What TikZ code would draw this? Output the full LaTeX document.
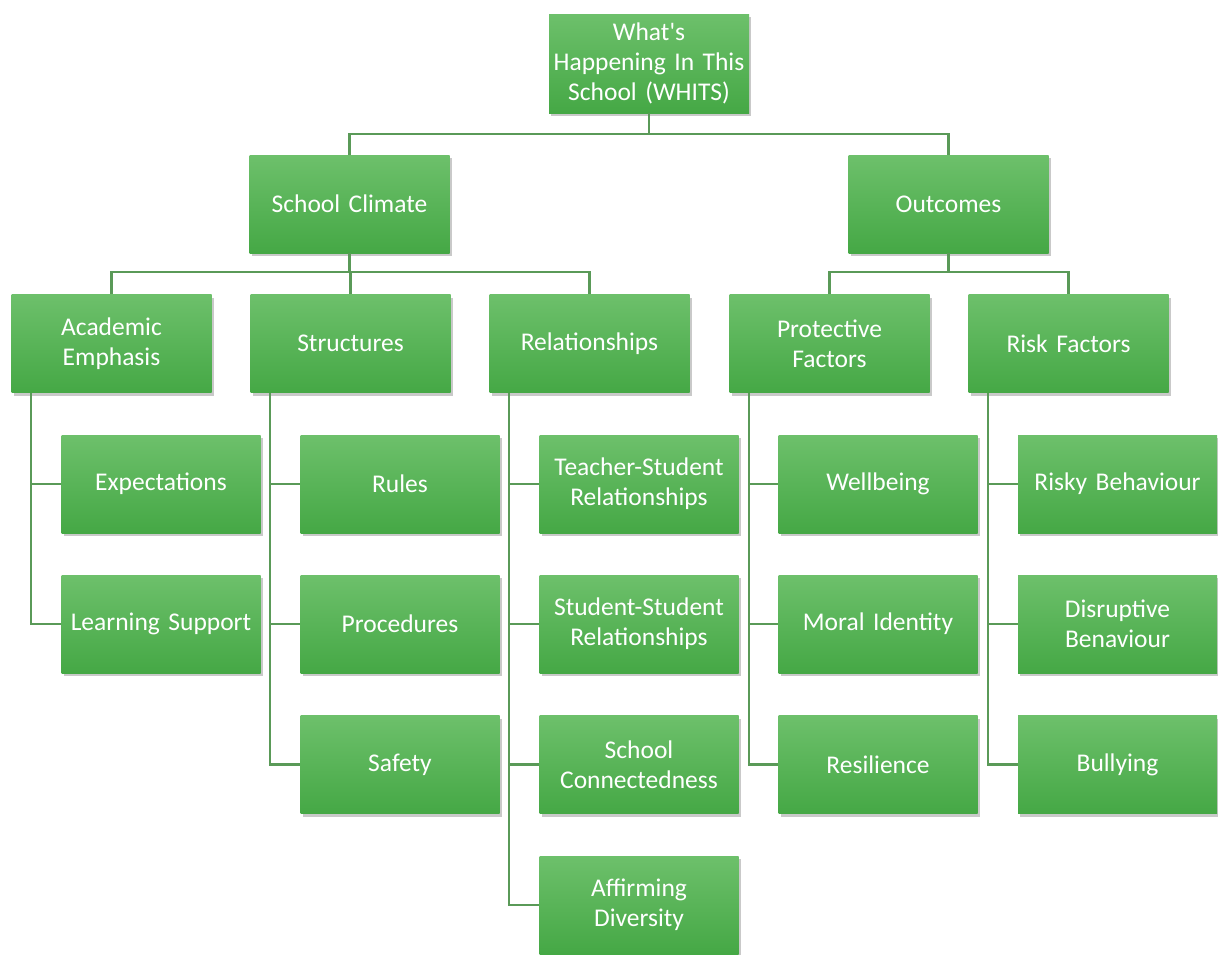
\documentclass[tikz,border=0pt]{standalone}
\usepackage{fontspec}
\setmainfont{Carlito}[Ligatures=TeXOff]
\usetikzlibrary{shadows}
\definecolor{gtop}{HTML}{6DC06B}
\definecolor{gbot}{HTML}{45A845}
\definecolor{lineg}{HTML}{5A9A58}
\tikzset{
  box/.style={rectangle, top color=gtop, bottom color=gbot, draw=none,
    minimum width=200pt, minimum height=98pt, inner sep=0pt, text width=196pt,
    align=center, text=white, font=\fontsize{25.5pt}{30pt}\selectfont,
    drop shadow={shadow xshift=2pt, shadow yshift=-3pt, opacity=0.35, fill=black!60}},
  cbox/.style={box, minimum width=199pt},
  conn/.style={draw=lineg, line width=2.2pt}
}
\begin{document}
\begin{tikzpicture}[x=1pt,y=-1pt]
\useasboundingbox (0,0) rectangle (1218,954);
\fill[white] (0,0) rectangle (1218,954);
\node[box, minimum height=99pt] (root) at (649,63.5) {What's\\Happening In This\\School (WHITS)};
\node[box] (sc) at (349.5,204) {School Climate};
\node[box] (oc) at (948.5,204) {Outcomes};
\node[box] (ae) at (111.5,343.5) {Academic\\Emphasis};
\node[box] (st) at (350.5,343.5) {Structures};
\node[box] (re) at (589.5,343.5) {Relationships};
\node[box] (pf) at (829.5,343.5) {Protective\\Factors};
\node[box] (rf) at (1068.5,343.5) {Risk Factors};
\node[cbox] (ex) at (161,484) {Expectations};
\node[cbox] (ls) at (161,624) {Learning Support};
\node[cbox] (ru) at (400,484) {Rules};
\node[cbox] (pr) at (400,624) {Procedures};
\node[cbox] (sa) at (400,764.5) {Safety};
\node[cbox] (ts) at (639,484) {Teacher-Student\\Relationships};
\node[cbox] (ss) at (639,624) {Student-Student\\Relationships};
\node[cbox] (scn) at (639,764.5) {School\\Connectedness};
\node[cbox] (ad) at (639,905) {Affirming\\Diversity};
\node[cbox] (wb) at (878,484) {Wellbeing};
\node[cbox] (mi) at (878,624) {Moral Identity};
\node[cbox] (rs) at (878,764.5) {Resilience};
\node[cbox] (rb) at (1117.5,484) {Risky Behaviour};
\node[cbox] (db) at (1117.5,624) {Disruptive\\Benaviour};
\node[cbox] (bu) at (1117.5,764.5) {Bullying};
\draw[conn] (root.south) -- ++(0,21) -| (sc.north);
\draw[conn] (root.south) -- ++(0,21) -| (oc.north);
\draw[conn] (sc.south) -- ++(0,19) -| (ae.north);
\draw[conn] (sc.south) -- ++(0,19) -| (st.north);
\draw[conn] (sc.south) -- ++(0,19) -| (re.north);
\draw[conn] (oc.south) -- ++(0,19) -| (pf.north);
\draw[conn] (oc.south) -- ++(0,19) -| (rf.north);
\foreach \p/\c in {ae/ex,ae/ls,st/ru,st/pr,st/sa,re/ts,re/ss,re/scn,re/ad,pf/wb,pf/mi,pf/rs,rf/rb,rf/db,rf/bu}{
  \draw[conn] ([xshift=20pt]\p.south west) |- (\c.west);
}
\end{tikzpicture}
\end{document}
